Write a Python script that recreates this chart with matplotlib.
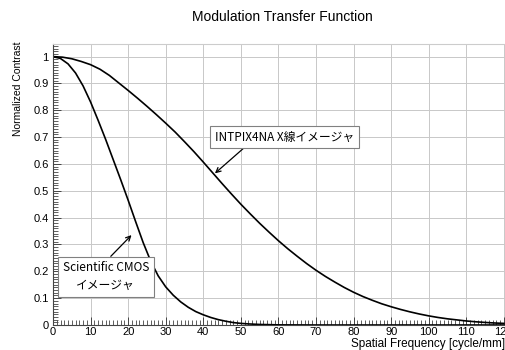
import matplotlib
matplotlib.use("Agg")
from matplotlib import pyplot as plt
from matplotlib.ticker import MultipleLocator

# values
freq_intpix = [0, 2.5, 5, 7.5, 10, 12.5, 15, 17.5, 20, 22.5, 25, 27.5, 30,
               32.5, 35, 37.5, 40, 42.5, 45, 47.5, 50, 52.5, 55, 57.5, 60,
               62.5, 65, 67.5, 70, 72.5, 75, 77.5, 80, 82.5, 85, 87.5, 90,
               92.5, 95, 97.5, 100, 102.5, 105, 107.5, 110, 112.5, 115,
               117.5, 120]
mtf_intpix = [1.0, 0.998, 0.992, 0.982, 0.970, 0.953, 0.930, 0.902, 0.874,
              0.845, 0.815, 0.784, 0.752, 0.719, 0.683, 0.646, 0.607, 0.567,
              0.527, 0.488, 0.450, 0.414, 0.379, 0.346, 0.314, 0.284, 0.256,
              0.229, 0.204, 0.181, 0.160, 0.140, 0.122, 0.106, 0.092, 0.079,
              0.068, 0.058, 0.049, 0.041, 0.034, 0.028, 0.023, 0.019, 0.015,
              0.012, 0.0095, 0.0075, 0.006]

freq_cmos = [0, 2, 4, 6, 8, 10, 12, 14, 16, 18, 20, 22, 24, 26, 28, 30, 32,
             34, 36, 38, 40, 42, 44, 46, 48, 50, 52, 55, 60, 70, 120]
mtf_cmos = [1.0, 0.993, 0.973, 0.939, 0.891, 0.831, 0.763, 0.692, 0.617,
            0.542, 0.465, 0.385, 0.307, 0.238, 0.183, 0.142, 0.111, 0.086,
            0.066, 0.050, 0.038, 0.028, 0.020, 0.014, 0.009, 0.006, 0.004,
            0.002, 0.0005, 0.0, 0.0]

label_intpix = "INTPIX4NA X線イメージャ"
label_cmos = "Scientific CMOS\nイメージャ"

plt.rcParams["font.family"] = ["Liberation Sans", "DejaVu Sans"]
jp = ["Noto Sans CJK JP", "DejaVu Sans"]

fig = plt.figure(figsize=(5.06, 3.5), dpi=100)
ax = fig.add_axes([53 / 506, 25 / 350, 452 / 506, 281 / 350])

ax.plot(freq_intpix, mtf_intpix, color="black", lw=1.2)
ax.plot(freq_cmos, mtf_cmos, color="black", lw=1.2)

ax.set_xlim(0, 120.3)
ax.set_ylim(0, 1.047)
ax.xaxis.set_major_locator(MultipleLocator(10))
ax.xaxis.set_minor_locator(MultipleLocator(1))
ax.yaxis.set_minor_locator(MultipleLocator(0.01))
ax.set_yticks([0, 0.1, 0.2, 0.3, 0.4, 0.5, 0.6, 0.7, 0.8, 0.9, 1.0])
ax.set_yticklabels(["0", "0.1", "0.2", "0.3", "0.4", "0.5", "0.6", "0.7",
                    "0.8", "0.9", "1"])
ax.tick_params(which="both", direction="in", labelsize=8, color="#444444")
ax.tick_params(which="major", length=6, width=0.7)
ax.tick_params(which="minor", length=3.5, width=0.6)
ax.tick_params(axis="x", pad=1.5)
ax.tick_params(axis="y", pad=3)
ax.grid(True, which="major", color="#c8c8c8", lw=0.7)
ax.set_axisbelow(True)

ax.spines["left"].set_color("#444444")
ax.spines["bottom"].set_color("#444444")
ax.spines["top"].set_color("#cccccc")
ax.spines["right"].set_visible(False)

box = dict(boxstyle="square,pad=0.4", fc="white", ec="#808080", lw=0.8)
ax.annotate(label_intpix, xy=(43.1, 0.565), xytext=(61.6, 0.70),
            ha="center", va="center", fontsize=8.5, family=jp, bbox=box,
            arrowprops=dict(arrowstyle="->", color="black", lw=0.9,
                            relpos=(0.244, 0.0), shrinkA=0, shrinkB=0))
ax.annotate(label_cmos, xy=(20.9, 0.335), xytext=(14.05, 0.18),
            ha="center", va="center", fontsize=8.5, family=jp, bbox=box,
            linespacing=1.45,
            arrowprops=dict(arrowstyle="->", color="black", lw=0.9,
                            relpos=(0.5, 1.0), shrinkA=0, shrinkB=0))

fig.text(282 / 506, 1 - 17 / 350, "Modulation Transfer Function",
         ha="center", va="center", fontsize=10)
fig.text(18 / 506, 1 - 42 / 350, "Normalized Contrast", rotation=90,
         ha="center", va="top", fontsize=7.5)
fig.text(505 / 506, 0.5 / 350, "Spatial Frequency [cycle/mm]",
         ha="right", va="bottom", fontsize=8.5)

fig.savefig("out.png", dpi=100)
